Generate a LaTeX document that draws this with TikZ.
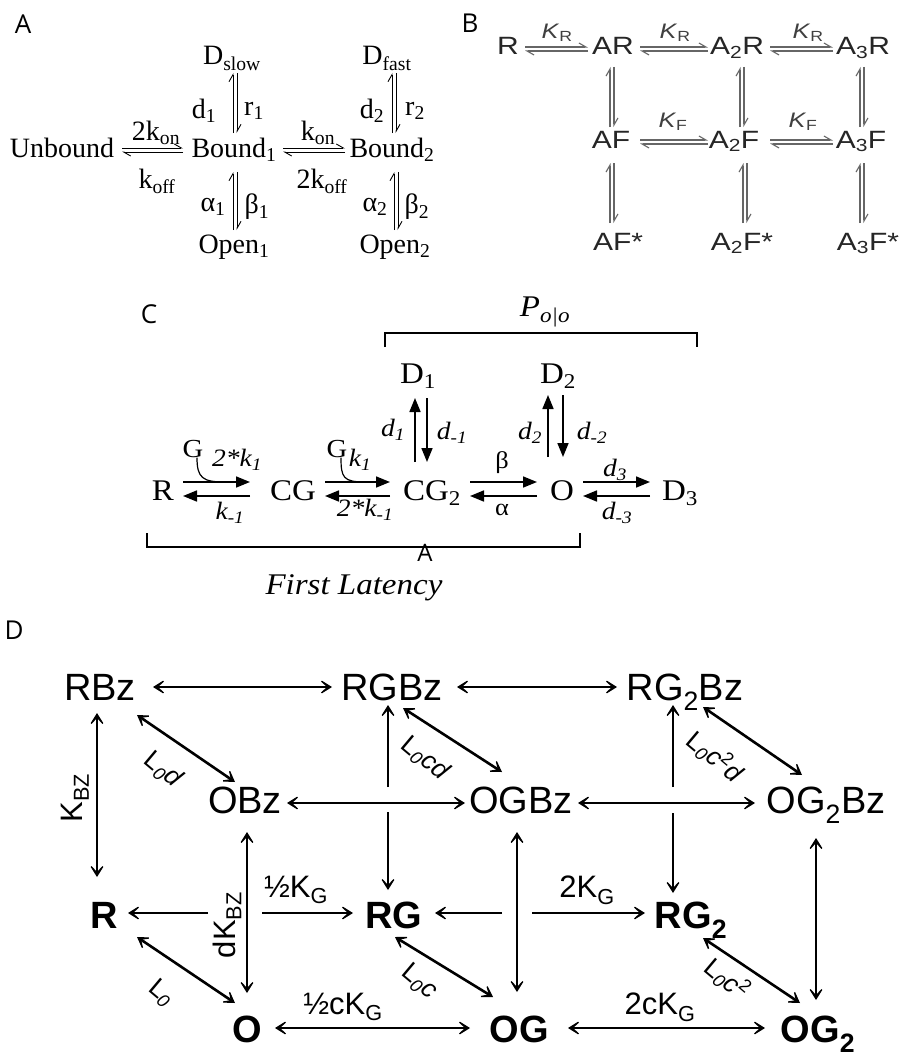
\documentclass[tikz,border=0pt]{standalone}
\usepackage{fontspec}
\setmainfont{Liberation Serif}
\setsansfont{Liberation Sans}
\newfontfamily\lblfont{Open Sans}
\newfontfamily\sansB[FakeStretch=1.2]{Liberation Sans}
\newfontfamily\serifC[FakeStretch=1.1]{Liberation Serif}
\usetikzlibrary{arrows.meta,calc}
\begin{document}
\begin{tikzpicture}[x=1pt,y=-1pt,
 every node/.style={inner sep=0pt,outer sep=0pt},
 panel/.style={font=\lblfont\fontsize{26}{28}\selectfont},
 sA/.style={font=\fontsize{28}{30}\selectfont},
 harp/.style={line width=0.9pt,-{Straight Barb[left,length=7pt,width=8pt]}},
 sB/.style={font=\sansB\fontsize{25}{27}\selectfont,text=black!85},
 sBl/.style={font=\sansB\fontsize{21}{23}\selectfont,text=black!75},
 harpB/.style={line width=1.1pt,draw=black!60,-{Straight Barb[left,length=7pt,width=8pt]}},
 sC/.style={font=\serifC\fontsize{30}{32}\selectfont},
 sCG/.style={font=\serifC\fontsize{26}{28}\selectfont},
 sCl/.style={font=\serifC\itshape\fontsize{25}{27}\selectfont},
 sCg/.style={font=\serifC\fontsize{24}{26}\selectfont},
 arrC/.style={line width=1.7pt,-{Triangle[length=14pt,width=11pt]}},
 bracket/.style={line width=1.1pt},
 sD/.style={font=\sffamily\fontsize{38}{40}\selectfont},
 sDb/.style={font=\sffamily\bfseries\fontsize{38}{40}\selectfont},
 sDl/.style={font=\sffamily\fontsize{31}{33}\selectfont},
 sDs/.style={font=\sffamily\fontsize{26}{28}\selectfont},
 tipD/.tip={Stealth[length=16pt,width=20pt,inset=11pt]},
 arrD/.style={line width=2.6pt,tipD-tipD},
 oneD/.style={line width=2.6pt,-tipD}
]
\fill[white] (0,0) rectangle (907,1057);
\useasboundingbox (0,0) rectangle (907,1057);

%% ---------------- Panel A ----------------
\node[panel] (labA) at (23,24) {A};
\node[sA,anchor=base] (Unb) at (62,157) {Unbound};
\node[sA,anchor=base] (B1) at (234,157) {Bound\textsubscript{1}};
\node[sA,anchor=base] (B2) at (392,157) {Bound\textsubscript{2}};
\node[sA,anchor=base] (Ds) at (232,65) {D\textsubscript{slow}};
\node[sA,anchor=base] (Df) at (387,65) {D\textsubscript{fast}};
\node[sA,anchor=base] (O1) at (234,253) {Open\textsubscript{1}};
\node[sA,anchor=base] (O2) at (395,253) {Open\textsubscript{2}};

\draw[harp] ($(Unb.base)+(60,-9)$) -- ($(B1.base)+(-51,-9)$);
\draw[harp] ($(B1.base)+(-51,-5)$) -- ($(Unb.base)+(60,-5)$);
\draw[harp] ($(B1.base)+(49,-9)$) -- ($(B2.base)+(-47,-9)$);
\draw[harp] ($(B2.base)+(-47,-5)$) -- ($(B1.base)+(49,-5)$);
\draw[harp] ($(B1.base)+(-1,-24)$) -- ($(Ds.base)+(1,8)$);
\draw[harp] ($(Ds.base)+(5,8)$) -- ($(B1.base)+(3,-24)$);
\draw[harp] ($(B2.base)+(0,-24)$) -- ($(Df.base)+(5,8)$);
\draw[harp] ($(Df.base)+(9,8)$) -- ($(B2.base)+(4,-24)$);
\draw[harp] ($(O1.base)+(-1,-23)$) -- ($(B1.base)+(-1,15)$);
\draw[harp] ($(B1.base)+(3,15)$) -- ($(O1.base)+(3,-23)$);
\draw[harp] ($(O2.base)+(-1,-23)$) -- ($(B2.base)+(2,15)$);
\draw[harp] ($(B2.base)+(6,15)$) -- ($(O2.base)+(3,-23)$);

\node[sA] (ld1) at (204,111) {d\textsubscript{1}};
\node[sA] (lr1) at (254,111) {r\textsubscript{1}};
\node[sA] (ld2) at (372,111) {d\textsubscript{2}};
\node[sA] (lr2) at (415,111) {r\textsubscript{2}};
\node[sA] (la1) at (213,207) {α\textsubscript{1}};
\node[sA] (lb1) at (257,207) {β\textsubscript{1}};
\node[sA] (la2) at (375,207) {α\textsubscript{2}};
\node[sA] (lb2) at (417,207) {β\textsubscript{2}};
\node[sA] (lkon1) at (156,133) {2k\textsubscript{on}};
\node[sA] (lkoff1) at (157,181) {k\textsubscript{off}};
\node[sA] (lkon2) at (318,133) {k\textsubscript{on}};
\node[sA] (lkoff2) at (322,181) {2k\textsubscript{off}};

%% ---------------- Panel B ----------------
\node[panel] (labB) at (470,23) {B};
\node[sB,anchor=base] (bR) at (508,55) {R};
\node[sB,anchor=base] (bAR) at (613,55) {AR};
\node[sB,anchor=base] (bA2R) at (737,55) {A\textsubscript{2}R};
\node[sB,anchor=base] (bA3R) at (863,55) {A\textsubscript{3}R};
\node[sB,anchor=base] (bAF) at (611,148) {AF};
\node[sB,anchor=base] (bA2F) at (734,148) {A\textsubscript{2}F};
\node[sB,anchor=base] (bA3F) at (861,148) {A\textsubscript{3}F};
\node[sB,anchor=base] (bAFs) at (618,250) {AF*};
\node[sB,anchor=base] (bA2Fs) at (742,250) {A\textsubscript{2}F*};
\node[sB,anchor=base] (bA3Fs) at (868,250) {A\textsubscript{3}F*};

\draw[harpB] ($(bR.base)+(17,-8)$) -- ($(bAR.base)+(-25,-8)$);
\draw[harpB] ($(bAR.base)+(-25,-4)$) -- ($(bR.base)+(17,-4)$);
\draw[harpB] ($(bAR.base)+(27,-8)$) -- ($(bA2R.base)+(-29,-8)$);
\draw[harpB] ($(bA2R.base)+(-29,-4)$) -- ($(bAR.base)+(27,-4)$);
\draw[harpB] ($(bA2R.base)+(33,-8)$) -- ($(bA3R.base)+(-30,-8)$);
\draw[harpB] ($(bA3R.base)+(-30,-4)$) -- ($(bA2R.base)+(33,-4)$);
\draw[harpB] ($(bAF.base)+(29,-8)$) -- ($(bA2F.base)+(-26,-8)$);
\draw[harpB] ($(bA2F.base)+(-26,-4)$) -- ($(bAF.base)+(29,-4)$);
\draw[harpB] ($(bA2F.base)+(36,-8)$) -- ($(bA3F.base)+(-28,-8)$);
\draw[harpB] ($(bA3F.base)+(-28,-4)$) -- ($(bA2F.base)+(36,-4)$);

\draw[harpB] ($(bAF.base)+(-1,-21)$) -- ($(bAR.base)+(-3,12)$);
\draw[harpB] ($(bAR.base)+(1,12)$) -- ($(bAF.base)+(3,-21)$);
\draw[harpB] ($(bA2F.base)+(6,-21)$) -- ($(bA2R.base)+(3,12)$);
\draw[harpB] ($(bA2R.base)+(7,12)$) -- ($(bA2F.base)+(10,-21)$);
\draw[harpB] ($(bA3F.base)+(-1,-21)$) -- ($(bA3R.base)+(-3,12)$);
\draw[harpB] ($(bA3R.base)+(1,12)$) -- ($(bA3F.base)+(3,-21)$);
\draw[harpB] ($(bAFs.base)+(-8,-27)$) -- ($(bAF.base)+(-1,15)$);
\draw[harpB] ($(bAF.base)+(3,15)$) -- ($(bAFs.base)+(-4,-27)$);
\draw[harpB] ($(bA2Fs.base)+(1,-27)$) -- ($(bA2F.base)+(9,15)$);
\draw[harpB] ($(bA2F.base)+(13,15)$) -- ($(bA2Fs.base)+(5,-27)$);
\draw[harpB] ($(bA3Fs.base)+(-8,-27)$) -- ($(bA3F.base)+(-1,15)$);
\draw[harpB] ($(bA3F.base)+(3,15)$) -- ($(bA3Fs.base)+(-4,-27)$);

\node[sBl] (kR1) at (557,33) {\textit{K}\textsubscript{R}};
\node[sBl] (kR2) at (675,33) {\textit{K}\textsubscript{R}};
\node[sBl] (kR3) at (808,33) {\textit{K}\textsubscript{R}};
\node[sBl] (kF1) at (673,122) {\textit{K}\textsubscript{F}};
\node[sBl] (kF2) at (803,122) {\textit{K}\textsubscript{F}};

%% ---------------- Panel C ----------------
\node[panel] (labC) at (149,314) {C};
\node[sC,anchor=base] (cR) at (163,500) {R};
\node[sC,anchor=base] (cCG) at (293,500) {CG};
\node[sC,anchor=base] (cCG2) at (432,500) {CG\textsubscript{2}};
\node[sC,anchor=base] (cO) at (562,500) {O};
\node[sC,anchor=base] (cD3) at (680,500) {D\textsubscript{3}};
\node[sC,anchor=base] (cD1) at (418,383) {D\textsubscript{1}};
\node[sC,anchor=base] (cD2) at (558,383) {D\textsubscript{2}};
\node[sCG] (cG1) at (193,449) {G};
\node[sCG] (cG2) at (337,449) {G};

\draw[arrC] ($(cR.base)+(20,-18)$) -- coordinate[pos=0.62] (m1) ($(cCG.base)+(-43,-18)$);
\draw[arrC] ($(cCG.base)+(-43,-4)$) -- ($(cR.base)+(20,-4)$);
\draw[arrC] ($(cCG.base)+(32,-18)$) -- coordinate[pos=0.62] (m2) ($(cCG2.base)+(-42,-18)$);
\draw[arrC] ($(cCG2.base)+(-42,-4)$) -- ($(cCG.base)+(32,-4)$);
\draw[arrC] ($(cCG2.base)+(38,-18)$) -- ($(cO.base)+(-25,-18)$);
\draw[arrC] ($(cO.base)+(-25,-4)$) -- ($(cCG2.base)+(38,-4)$);
\draw[arrC] ($(cO.base)+(21,-18)$) -- ($(cD3.base)+(-30,-18)$);
\draw[arrC] ($(cD3.base)+(-30,-4)$) -- ($(cO.base)+(21,-4)$);
\draw[arrC] ($(cCG2.base)+(-17,-38)$) -- ($(cD1.base)+(-3,15)$);
\draw[arrC] ($(cD1.base)+(9,15)$) -- ($(cCG2.base)+(-5,-38)$);
\draw[arrC] ($(cO.base)+(-14,-43)$) -- ($(cD2.base)+(-10,12)$);
\draw[arrC] ($(cD2.base)+(5,12)$) -- ($(cO.base)+(1,-43)$);
\draw[line width=1.2pt] ($(cG1.south)+(4,0)$) .. controls +(0,20) and +(-22,0) .. (m1);
\draw[line width=1.2pt] ($(cG2.south)+(4,0)$) .. controls +(0,20) and +(-22,0) .. (m2);

\node[sCl] (lc1) at (237,460) {2*k\textsubscript{1}};
\node[sCl] (lc2) at (230,513) {k\textsubscript{-1}};
\node[sCl] (lc3) at (360,460) {k\textsubscript{1}};
\node[sCl] (lc4) at (365,510) {2*k\textsubscript{-1}};
\node[sCl] (lc5) at (393,430) {d\textsubscript{1}};
\node[sCl] (lc6) at (452,433) {d\textsubscript{-1}};
\node[sCl] (lc7) at (530,433) {d\textsubscript{2}};
\node[sCl] (lc8) at (592,433) {d\textsubscript{-2}};
\node[sCl] (lc9) at (615,470) {d\textsubscript{3}};
\node[sCl] (lc10) at (617,513) {d\textsubscript{-3}};
\node[sCg] (lbeta) at (502,463) {β};
\node[sCg] (lalpha) at (502,510) {α};
\node[font=\serifC\itshape\fontsize{30}{32}\selectfont] (Poo) at (545,312) {P\textsubscript{o|o}};
\draw[bracket] (385,347) -- (385,333) -- (697,333) -- (697,347);
\draw[bracket] (147,533) -- (147,547) -- (580,547) -- (580,533);
\node[font=\lblfont\fontsize{24}{26}\selectfont] (strayA) at (425,553) {A};
\node[font=\serifC\itshape\fontsize{30}{32}\selectfont] (FL) at (354,588) {First Latency};

%% ---------------- Panel D ----------------
\node[panel] (labD) at (14,630) {D};
\node[sD,anchor=base] (RBz) at (100,700) {RBz};
\node[sD,anchor=base] (RGBz) at (392,700) {RGBz};
\node[sD,anchor=base] (RG2Bz) at (685,700) {RG\textsubscript{2}Bz};
\node[sD,anchor=base] (OBz) at (245,813) {OBz};
\node[sD,anchor=base] (OGBz) at (521,813) {OGBz};
\node[sD,anchor=base] (OG2Bz) at (826,813) {OG\textsubscript{2}Bz};
\node[sDb,anchor=base] (R) at (104,928) {R};
\node[sDb,anchor=base] (RG) at (394,928) {RG};
\node[sDb,anchor=base] (RG2) at (691,928) {RG\textsubscript{2}};
\node[sDb,anchor=base] (O) at (247,1042) {O};
\node[sDb,anchor=base] (OG) at (519,1042) {OG};
\node[sDb,anchor=base] (OG2) at (818,1042) {OG\textsubscript{2}};

\draw[arrD] ($(RBz.base)+(53,-13)$) -- ($(RGBz.base)+(-60,-13)$);
\draw[arrD] ($(RGBz.base)+(65,-13)$) -- ($(RG2Bz.base)+(-68,-13)$);
\draw[arrD] ($(RBz.base)+(-3,13)$) -- ($(R.base)+(-7,-51)$);
\draw[arrD] ($(RBz.base)+(37,15)$) -- ($(OBz.base)+(-10,-31)$);
\draw[arrD] ($(OBz.base)+(42,-10)$) -- ($(OGBz.base)+(-56,-10)$);
\draw[arrD] ($(OGBz.base)+(57,-10)$) -- ($(OG2Bz.base)+(-71,-10)$);
\draw[arrD] ($(RGBz.base)+(11,8)$) -- ($(OGBz.base)+(-19,-41)$);
\draw[arrD] ($(RG2Bz.base)+(18,7)$) -- ($(OG2Bz.base)+(-24,-38)$);
\coordinate (gA1) at (388,787); \coordinate (gA2) at (388,812);
\draw[oneD] (gA1) -- ($(RGBz.base)+(-4,5)$);
\draw[oneD] (gA2) -- ($(RG.base)+(-6,-38)$);
\coordinate (gB1) at (673,787); \coordinate (gB2) at (673,813);
\draw[oneD] (gB1) -- ($(RG2Bz.base)+(-12,5)$);
\draw[oneD] (gB2) -- ($(RG2.base)+(-18,-35)$);
\draw[arrD] ($(OBz.base)+(2,19)$) -- ($(O.base)+(0,-49)$);
\draw[arrD] ($(OGBz.base)+(-4,19)$) -- ($(OG.base)+(-2,-50)$);
\draw[arrD] ($(OG2Bz.base)+(-10,25)$) -- ($(OG2.base)+(-2,-42)$);
\coordinate (gC1) at (208,913); \coordinate (gC2) at (262,913);
\draw[oneD] (gC1) -- ($(R.base)+(24,-15)$);
\draw[oneD] (gC2) -- ($(RG.base)+(-41,-15)$);
\coordinate (gD1) at (502,913); \coordinate (gD2) at (532,913);
\draw[oneD] (gD1) -- ($(RG.base)+(41,-15)$);
\draw[oneD] (gD2) -- ($(RG2.base)+(-46,-15)$);
\draw[arrD] ($(R.base)+(33,9)$) -- ($(O.base)+(-12,-39)$);
\draw[arrD] ($(RG.base)+(1,9)$) -- ($(OG.base)+(-26,-45)$);
\draw[arrD] ($(RG2.base)+(12,10)$) -- ($(OG2.base)+(-18,-39)$);
\draw[arrD] ($(O.base)+(28,-14)$) -- ($(OG.base)+(-49,-14)$);
\draw[arrD] ($(OG.base)+(49,-14)$) -- ($(OG2.base)+(-53,-14)$);

\node[sDl,rotate=90] (lKbz) at (75,798) {K\textsubscript{BZ}};
\node[sDl,rotate=90] (ldKbz) at (227,925) {dK\textsubscript{BZ}};
\node[sDl] (lhKG) at (296,890) {½K\textsubscript{G}};
\node[sDl] (l2KG) at (587,890) {2K\textsubscript{G}};
\node[sDl] (lhcKG) at (343,1007) {½cK\textsubscript{G}};
\node[sDl] (l2cKG) at (660,1007) {2cK\textsubscript{G}};
\node[sDs,rotate=-40] (lL0d) at (163,770) {L\textsubscript{\itshape 0}\textit{d}};
\node[sDs,rotate=-40] (lL0cd) at (425,759) {L\textsubscript{\itshape 0}\textit{cd}};
\node[sDs,rotate=-40] (lL0c2d) at (715,757) {L\textsubscript{\itshape 0}\textit{c}\textsuperscript{2}\textit{d}};
\node[sDs,rotate=-40] (lL0) at (161,993) {L\textsubscript{\itshape 0}};
\node[sDs,rotate=-40] (lL0c) at (419,982) {L\textsubscript{\itshape 0}\textit{c}};
\node[sDs,rotate=-40] (lL0c2) at (727,979) {L\textsubscript{\itshape 0}\textit{c}\textsuperscript{2}};
\end{tikzpicture}
\end{document}
